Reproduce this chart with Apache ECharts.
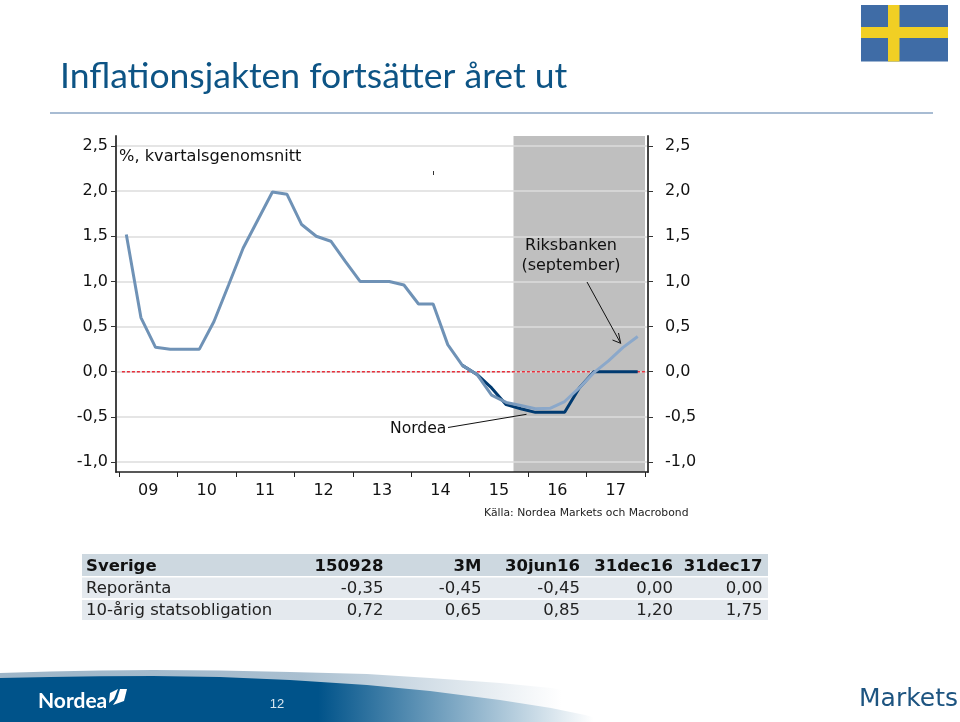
<!DOCTYPE html>
<html><head><meta charset="utf-8">
<style>html,body{margin:0;padding:0;background:#fff}#c{width:960px;height:722px}</style>
<script src="https://cdn.jsdelivr.net/npm/echarts@6/dist/echarts.min.js"></script>
</head><body><div id="c"></div>
<script>
const yearLabels = ['09','10','11','12','13','14','15','16','17'];
const yTicks = [-1,-0.5,0,0.5,1,1.5,2,2.5];
const gridTicks = [-1,-0.5,0.5,1,1.5,2,2.5];
const nordea = [null,null,null,null,null,null,null,null,null,null,null,null,null,null,null,null,null,null,null,null,null,null,null,0.07,-0.03,-0.18,-0.365,-0.41,-0.45,-0.45,-0.45,-0.18,0,0,0,0];
const riksbanken = [1.52,0.60,0.27,0.25,0.25,0.25,0.556,0.96,1.37,1.68,1.99,1.965,1.63,1.50,1.445,1.22,1.0,1.0,1.0,0.96,0.75,0.75,0.30,0.07,-0.03,-0.26,-0.34,-0.375,-0.41,-0.405,-0.33,-0.18,-0.01,0.12,0.27,0.39];
const zeroLine = [[0.2,0],[36,0]];
const forecastStartQuarter = 27;
const tableHeader = ['Sverige','150928','3M','30jun16','31dec16','31dec17'];
const tableRow1 = ['Reporänta','-0,35','-0,45','-0,45','0,00','0,00'];
const tableRow2 = ['10-årig statsobligation','0,72','0,65','0,85','1,20','1,75'];
const titleText = 'Inflationsjakten fortsätter året ut';

const quarterPairs = a => a.map((v,i)=>[i+0.5,v]);
const yearTicks = yearLabels.map((_,i)=>i*4).concat(yearLabels.length*4);
const yearCenters = yearLabels.map((_,i)=>i*4+2);
const fmtY = v => Number(v).toFixed(1).replace('.',',');
const axisFont = {fontFamily:'DejaVu Sans',fontSize:16,color:'#111'};
const yCommon = {
  type:'value',min:-1.1106,max:2.6106,
  axisLine:{show:true,onZero:false,lineStyle:{color:'#444',width:2}},
  axisTick:{show:true,length:5,customValues:yTicks,lineStyle:{color:'#333',width:1}},
};

const colXs = [null,383.5,481.5,580,673,762.5];
const gfx = [];
const rect=(x,y,w,h,fill,z)=>gfx.push({type:'rect',shape:{x,y,width:w,height:h},style:{fill},z:z||10,silent:true});
const text=(t,x,y,font,fill,align)=>gfx.push({type:'text',z:20,silent:true,style:{text:t,x,y,font,fill,align:align||'left',verticalAlign:'middle'}});
const line=(x1,y1,x2,y2,stroke,w)=>gfx.push({type:'line',z:15,silent:true,shape:{x1,y1,x2,y2},style:{stroke,lineWidth:w||1}});

// header
text(titleText,60,77,'35.5px Lato','#0d5485');
line(50,113,933,113,'#8ba6c4',1.5);
rect(861,5,87,56.5,'#3f6ca6');
rect(888,5,11.5,56.5,'#f1cf24');
rect(861,27,87,11,'#f1cf24');
// chart annotations
text('%, kvartalsgenomsnitt',119,157,'16.2px "DejaVu Sans"','#111');
rect(433,171,1,4,'#333');
text('Riksbanken',571,246,'16px "DejaVu Sans"','#111','center');
text('(september)',571,266,'16px "DejaVu Sans"','#111','center');
text('Nordea',390,429,'15.6px "DejaVu Sans"','#111');
line(448,427.5,526.5,414.3,'#111',1);
line(587,282,620.7,343.3,'#111',1);
line(620.7,343.3,612.5,340,'#111',1);
line(620.7,343.3,618.5,333,'#111',1);
text('Källa: Nordea Markets och Macrobond',484,513,'10.8px "DejaVu Sans"','#222');
// table
rect(82,554,686,22,'#cdd8e0');
rect(82,577.5,686,20.5,'#e4e9ee');
rect(82,600,686,20,'#e4e9ee');
[[tableHeader,567,'bold 16.5px "DejaVu Sans"','#111'],[tableRow1,589,'16.5px "DejaVu Sans"','#222'],[tableRow2,610.5,'16.5px "DejaVu Sans"','#222']].forEach(([row,y,font,fill])=>{
  row.forEach((t,i)=>{ if(i===0) text(t,86,y,font,fill); else text(t,colXs[i],y,font,fill,'right'); });
});
// footer
const grad=(a,b,stops)=>({type:'linear',x:a,y:0,x2:b,y2:0,global:true,colorStops:stops});
gfx.push({type:'polygon',z:5,silent:true,shape:{points:[[0,673],[50,671.5],[100,670.5],[153,670],[220,670.5],[290,672],[367,674],[430,678],[500,683],[551,688],[612,697],[670,710],[720,722],[0,722]]},
  style:{fill:grad(0,720,[{offset:0,color:'#9db5c8'},{offset:0.42,color:'#a9bfd0'},{offset:0.78,color:'#ffffff'},{offset:1,color:'#ffffff'}])}});
gfx.push({type:'polygon',z:6,silent:true,shape:{points:[[0,678],[50,677],[100,676.3],[153,676],[220,677],[290,680],[367,685],[430,691],[500,700],[551,708],[585,715],[612,722],[0,722]]},
  style:{fill:grad(0,612,[{offset:0,color:'#00538a'},{offset:0.52,color:'#00538a'},{offset:0.97,color:'#ffffff'},{offset:1,color:'#ffffff'}])}});
text('Nordea',38,701,'bold 21px "Lato"','#ffffff');
gfx.push({type:'polygon',z:20,silent:true,shape:{points:[[110,693],[118,689],[114,699],[109,703]]},style:{fill:'#fff'}});
gfx.push({type:'polygon',z:20,silent:true,shape:{points:[[120,689],[127,689],[124,701],[113,705],[117,699]]},style:{fill:'#fff'}});
text('12',277,704,'13px "Liberation Sans"','#d8e6f0','center');
text('Markets',859,699,'25px "DejaVu Sans"','#1d5480');

const chart = echarts.init(document.getElementById('c'),null,{renderer:'canvas'});
chart.setOption({
  animation:false,
  backgroundColor:'#fff',
  grid:{left:116,right:312,top:136,height:336,containLabel:false},
  xAxis:{type:'value',min:-0.2055,max:36.2055,
    axisLine:{show:true,onZero:false,lineStyle:{color:'#222',width:1.5}},
    axisTick:{show:true,length:5,customValues:yearTicks,lineStyle:{color:'#222'}},
    axisLabel:Object.assign({customValues:yearCenters,margin:11,formatter:v=>yearLabels[(v-2)/4]},axisFont),
    splitLine:{show:false}},
  yAxis:[
    Object.assign({},yCommon,{position:'left',
      axisLabel:Object.assign({customValues:yTicks,formatter:fmtY,margin:8,padding:[2,0,0,0]},axisFont),
      splitLine:{show:true,customValues:gridTicks,lineStyle:{color:'#dcdcdc',width:1.5}}}),
    Object.assign({},yCommon,{position:'right',
      axisLabel:Object.assign({customValues:yTicks,formatter:fmtY,margin:17,padding:[2,0,0,0]},axisFont),
      splitLine:{show:false}})
  ],
  series:[
    {type:'line',z:-1,data:[],symbol:'none',silent:true,
     markArea:{z:-1,silent:true,itemStyle:{color:'#bfbfbf'},data:[[{xAxis:forecastStartQuarter},{xAxis:36}]]}},
    {type:'line',name:'Noll',z:2,data:zeroLine,symbol:'none',silent:true,lineStyle:{color:'#e8303c',type:[3,2],width:1.5}},
    {type:'line',name:'Nordea',z:3,data:quarterPairs(nordea),symbol:'none',lineStyle:{color:'#003a70',width:3}},
    {type:'line',name:'Riksbanken',z:4,data:quarterPairs(riksbanken),symbol:'none',
     lineStyle:{width:3,color:grad(116,648,[{offset:0,color:'#6f92b6'},{offset:0.72,color:'#6f92b6'},{offset:0.8,color:'#8ba8ca'},{offset:1,color:'#8ba8ca'}])}}
  ],
  graphic:gfx
});
</script></body></html>
